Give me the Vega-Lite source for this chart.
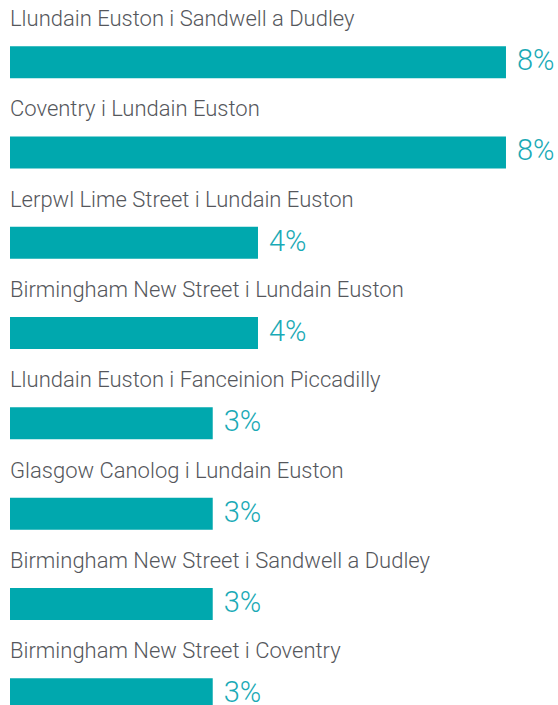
{
  "$schema": "https://vega.github.io/schema/vega-lite/v6.json",
  "width": 548,
  "height": 705,
  "autosize": "none",
  "padding": {"left": 10, "top": 0, "right": 0, "bottom": 0},
  "background": "white",
  "config": {"view": {"stroke": null}},
  "data": {
    "values": [
      {"route": "Llundain Euston i Sandwell a Dudley", "value": 8.0, "label": "8%"},
      {"route": "Coventry i Lundain Euston", "value": 8.0, "label": "8%"},
      {"route": "Lerpwl Lime Street i Lundain Euston", "value": 4.0, "label": "4%"},
      {"route": "Birmingham New Street i Lundain Euston", "value": 4.0, "label": "4%"},
      {"route": "Llundain Euston i Fanceinion Piccadilly", "value": 3.27, "label": "3%"},
      {"route": "Glasgow Canolog i Lundain Euston", "value": 3.27, "label": "3%"},
      {"route": "Birmingham New Street i Sandwell a Dudley", "value": 3.27, "label": "3%"},
      {"route": "Birmingham New Street i Coventry", "value": 3.27, "label": "3%"}
    ]
  },
  "encoding": {
    "y": {
      "field": "route",
      "type": "nominal",
      "sort": null,
      "axis": null,
      "scale": {"range": [0, 722.4], "paddingInner": 0, "paddingOuter": 0}
    }
  },
  "layer": [
    {
      "mark": {"type": "bar", "color": "#00A8AE", "height": 32, "yOffset": 17},
      "encoding": {
        "x": {"field": "value", "type": "quantitative", "axis": null, "scale": {"domain": [0, 8.839], "nice": false}}
      }
    },
    {
      "mark": {"type": "text", "align": "left", "baseline": "middle", "dx": 11, "yOffset": 16, "font": "Roboto", "fontWeight": 300, "fontSize": 29, "color": "#1AAAB6"},
      "encoding": {
        "x": {"field": "value", "type": "quantitative"},
        "text": {"field": "label"}
      }
    },
    {
      "mark": {"type": "text", "align": "left", "baseline": "middle", "x": 0, "yOffset": -26, "font": "Roboto", "fontWeight": 300, "fontSize": 22, "color": "#55575C"},
      "encoding": {
        "text": {"field": "route"}
      }
    }
  ]
}
